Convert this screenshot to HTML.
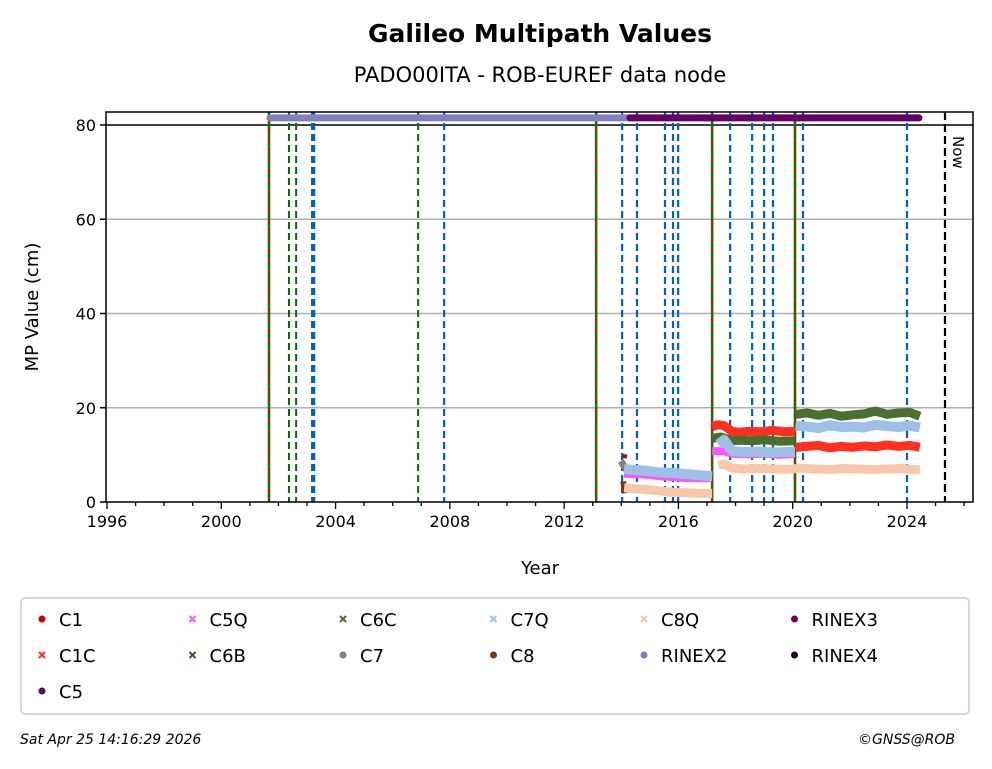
<!DOCTYPE html>
<html><head><meta charset="utf-8"><style>
body{margin:0;background:#fff;width:992px;height:769px;overflow:hidden;font-family:"Liberation Sans","DejaVu Sans",sans-serif}
svg{display:block}
</style></head><body>
<svg id="chart" width="992" height="769" xmlns="http://www.w3.org/2000/svg" font-family="'DejaVu Sans','Liberation Sans',sans-serif">
<text x="540" y="42" text-anchor="middle" font-size="25" font-weight="bold">Galileo Multipath Values</text>
<text x="540" y="82" text-anchor="middle" font-size="21">PADO00ITA - ROB-EUREF data node</text>
<g id="grid"></g><g id="vlines"></g><g id="data"></g><g id="axes"></g>
<text transform="translate(38,307) rotate(-90)" text-anchor="middle" font-size="18">MP Value (cm)</text>
<text x="540" y="574" text-anchor="middle" font-size="18">Year</text>
<text transform="translate(953,136) rotate(90)" font-size="15">Now</text>
<rect x="21" y="598" width="948" height="116" rx="4" fill="#fff" stroke="#ccc" stroke-width="1.5"/>
<g id="legend"></g>
<text x="20" y="744" font-size="14" font-style="italic">Sat Apr 25 14:16:29 2026</text>
<text x="955" y="744" text-anchor="end" font-size="14" font-style="italic">©GNSS@ROB</text>
</svg>
<script>
const yTicks=[0,20,40,60,80];
const xTicks=[1996,2000,2004,2008,2012,2016,2020,2024];
const rgLines=[2001.67,2013.12,2017.18,2020.08];
const greenLines=[2002.37,2002.62,2006.89];
const blueLines=[2003.18,2003.25,2007.8,2014.03,2014.55,2015.53,2015.81,2015.99,2017.81,2018.58,2019.0,2019.31,2020.36,2024.0];
const nowYear=2025.33;
const rinex2=[2001.7,2014.3];
const rinex3=[2014.3,2024.42];
const c1cYears=[2017.18,2017.4,2017.6,2017.87,2018.1,2018.5,2018.9,2019.3,2019.7,2020.08,2020.1,2020.5,2020.9,2021.3,2021.7,2022.1,2022.5,2022.9,2023.3,2023.7,2024.1,2024.45];
const c1cVals=[16.0,16.4,16.2,15.0,14.8,15.0,14.9,15.2,14.9,15.0,11.6,11.8,12.0,11.5,11.8,11.6,11.9,11.7,12.1,11.8,12.0,11.6];
const c6cYears=[2017.18,2017.5,2017.87,2018.2,2018.6,2019.0,2019.5,2020.08,2020.1,2020.5,2020.9,2021.3,2021.7,2022.1,2022.5,2022.9,2023.3,2023.7,2024.1,2024.45];
const c6cVals=[13.5,13.8,13.0,13.1,13.0,13.2,12.9,13.0,18.6,18.9,18.4,18.8,18.2,18.5,18.7,19.3,18.6,18.9,19.0,18.2];
const c5qYears=[2014.1,2014.8,2015.5,2016.3,2017.1,2017.18,2017.6,2017.87,2018.5,2019.0,2019.5,2020.08];
const c5qVals=[6.0,5.8,5.4,5.1,5.0,10.8,10.8,10.2,10.1,10.3,10.0,10.2];
const c7qYears=[2014.1,2014.5,2014.9,2015.3,2015.7,2016.1,2016.5,2016.9,2017.18,2017.4,2017.6,2017.87,2018.3,2018.8,2019.3,2019.8,2020.08,2020.1,2020.5,2020.9,2021.3,2021.7,2022.1,2022.5,2022.9,2023.3,2023.7,2024.1,2024.45];
const c7qVals=[7.0,6.8,6.6,6.3,6.2,6.0,5.8,5.6,5.5,12.2,13.2,10.8,10.6,10.7,10.5,10.6,10.6,16.2,16.0,15.7,16.3,15.9,16.0,15.8,16.4,16.1,15.9,16.2,15.8];
const c8qYears=[2014.1,2014.5,2014.9,2015.3,2015.7,2016.1,2016.5,2016.9,2017.18,2017.4,2017.6,2017.87,2018.3,2018.8,2019.3,2019.8,2020.3,2020.8,2021.3,2021.8,2022.3,2022.8,2023.3,2023.8,2024.2,2024.45];
const c8qVals=[3.0,2.8,2.6,2.4,2.1,2.0,1.9,1.8,1.8,7.8,8.1,7.2,7.0,7.1,7.0,6.9,7.2,7.0,6.9,7.1,7.0,6.9,7.0,7.1,6.9,6.8];
const c7Years=[2014.0,2014.2];const c7Vals=[7.2,8.0];
const c8Years=[2014.0,2014.2];const c8Vals=[3.0,3.2];
const c1Years=[2014.05,2014.2];const c1Vals=[9.8,9.6];

const NS='http://www.w3.org/2000/svg';
const X0=107,PX=28.571,Y0=502,PY=4.7125,LEFT=106,RIGHT=973,TOP=112;
function xs(y){return X0+(y-1996)*PX;}
function ys(v){return Y0-v*PY;}
function mk(tag,attrs,parent){const e=document.createElementNS(NS,tag);for(const k in attrs)e.setAttribute(k,attrs[k]);parent.appendChild(e);return e;}
const grid=document.getElementById('grid'),vl=document.getElementById('vlines'),dg=document.getElementById('data'),ax=document.getElementById('axes');
yTicks.forEach(v=>{
 if(v>0&&v<80){const g=mk('line',{x1:LEFT,x2:RIGHT,y1:ys(v),y2:ys(v),stroke:'#b0b0b0','stroke-width':1.5},grid);
 
 }
 const t=mk('line',{x1:LEFT-6,x2:LEFT,y1:ys(v),y2:ys(v),stroke:'#000','stroke-width':1.5},ax);
 
 
 const l=mk('text',{x:LEFT-10,y:ys(v)+6,'text-anchor':'end','font-size':16},ax);l.textContent=v;
 
 
});
const l80=mk('line',{x1:LEFT,x2:RIGHT,y1:ys(80),y2:ys(80),stroke:'#000','stroke-width':1.5},grid);


for(let y=1996;y<=2026;y++){const maj=xTicks.includes(y);
 const t=mk('line',{x1:xs(y),x2:xs(y),y1:Y0,y2:Y0+(maj?7:4),stroke:'#000','stroke-width':1.3},ax);
 
 
 if(maj){const l=mk('text',{x:xs(y),y:Y0+25,'text-anchor':'middle','font-size':16},ax);l.textContent=y;
 
 }}
const frame=mk('rect',{x:LEFT,y:TOP,width:RIGHT-LEFT,height:Y0-TOP,fill:'none',stroke:'#000','stroke-width':1.5},ax);


function vline(yr,color,dash,w,name){const e=mk('line',{x1:xs(yr),x2:xs(yr),y1:TOP,y2:Y0,stroke:color,'stroke-width':w,'stroke-dasharray':dash},vl);
 
 }
rgLines.forEach(y=>{vline(y,'#e00000','none',2.4,'event-line-red');vline(y,'#008000','7,3',2.4,'event-line-green');});
greenLines.forEach(y=>vline(y,'#007000','7,4',2,'event-line-green'));
blueLines.forEach(y=>vline(y,'#0060c0','7,4',2.2,'event-line-blue'));
vline(nowYear,'#000','8,4',2.2,'now-line');
function bar(r,color,name){const e=mk('line',{x1:xs(r[0]),x2:xs(r[1]),y1:ys(81.5),y2:ys(81.5),stroke:color,'stroke-width':7,'stroke-linecap':'round'},dg);
 
 }
bar(rinex2,'#8080c0','rinex2-bar');bar(rinex3,'#660066','rinex3-bar');
function band(yrs,vals,color,w,name){
 let segs=[[]];
 for(let i=0;i<yrs.length;i++){
  if(i>0&&Math.abs(vals[i]-vals[i-1])>2.5)segs.push([]);
  segs[segs.length-1].push(xs(yrs[i])+','+ys(vals[i]));}
 segs.forEach(s=>{if(s.length<2)return;const e=mk('polyline',{points:s.join(' '),fill:'none',stroke:color,'stroke-width':w,'stroke-linejoin':'round'},dg);
  
  });
}
band(c8Years,c8Vals,'#7a3b0c',12,'c8-series');
band(c7Years,c7Vals,'#808080',12,'c7-series');
band(c1Years,c1Vals,'#c00000',4,'c1-series');
band(c5qYears,c5qVals,'#ff55ff',8,'c5q-series');
band(c1cYears,c1cVals,'#ff3020',9,'c1c-series');
band(c6cYears,c6cVals,'#4a7030',9,'c6c-series');
band(c7qYears,c7qVals,'#9ec0e6',10,'c7q-series');
band(c8qYears,c8qVals,'#f8c8a8',9,'c8q-series');
const legendItems=[['C1','#c00000','o',0,0],['C1C','#ff3020','x',0,1],['C5','#660066','o',0,2],['C5Q','#ff55ff','x',1,0],['C6B','#3a6020','x',1,1],['C6C','#4a7030','x',2,0],['C7','#808080','o',2,1],['C7Q','#9ec0e6','x',3,0],['C8','#7a3b0c','o',3,1],['C8Q','#f8c8a8','x',4,0],['RINEX2','#8080c0','o',4,1],['RINEX3','#660066','o',5,0],['RINEX4','#200020','o',5,1]];
const lg=document.getElementById('legend');
legendItems.forEach(it=>{const x=42+it[3]*150.5,y=619+it[4]*36;
 const g=mk('g',{},lg);
 
 
 if(it[2]==='o')mk('circle',{cx:x,cy:y,r:3.5,fill:it[1]},g);
 else{mk('path',{d:`M${x-3},${y-3}L${x+3},${y+3}M${x-3},${y+3}L${x+3},${y-3}`,stroke:it[1],'stroke-width':2},g);}
 const t=mk('text',{x:x+17,y:y+7,'font-size':18},g);t.textContent=it[0];});
</script>
</body></html>
